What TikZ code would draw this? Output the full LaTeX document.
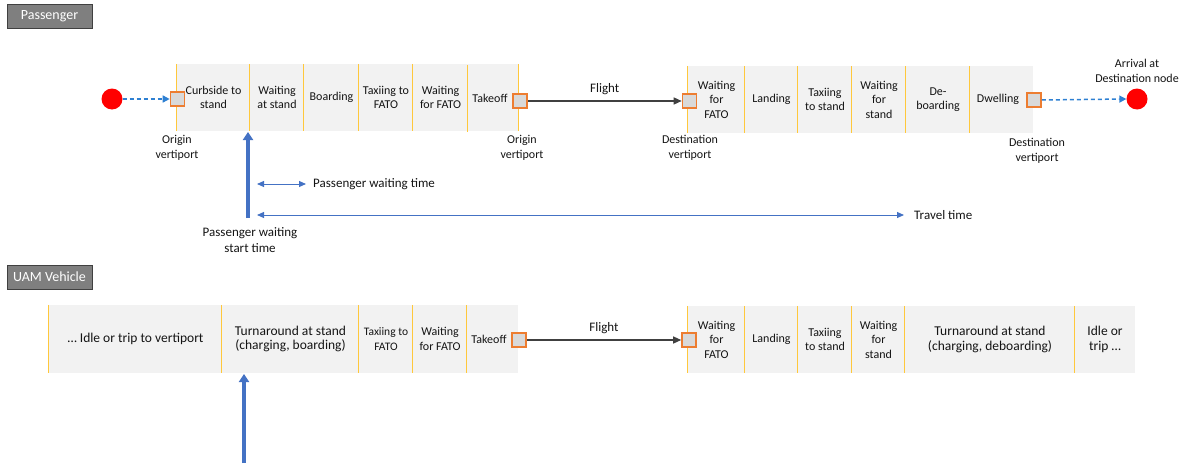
\documentclass[tikz,border=0pt]{standalone}
\usepackage{fontspec}
\setmainfont{Carlito}
\usetikzlibrary{arrows.meta}

\definecolor{bandfill}{RGB}{242,242,242}
\definecolor{sepline}{RGB}{255,200,60}
\definecolor{portfill}{RGB}{217,217,217}
\definecolor{portedge}{RGB}{237,125,49}
\definecolor{endred}{RGB}{255,0,0}
\definecolor{walkblue}{RGB}{46,128,210}
\definecolor{timeblue}{RGB}{68,114,196}
\definecolor{flightgray}{RGB}{64,64,64}
\definecolor{tagfill}{RGB}{127,127,127}
\definecolor{tagedge}{RGB}{64,64,64}
\definecolor{ink}{RGB}{20,20,20}

\newcommand\txtA{\fontsize{12}{14.5}\selectfont}
\newcommand\txtS{\fontsize{11.5}{14.5}\selectfont}
\newcommand\txtB{\fontsize{13}{15.5}\selectfont}
\newcommand\txtL{\fontsize{13.5}{15.5}\selectfont}
\newcommand\txtTag{\fontsize{14}{16}\selectfont}

% one phase cell: name, left x, right x, centre y, height, text
\newcommand\cellnode[6]{%
  \node[cell, minimum width={#3-#2}, minimum height=#5] (#1) at ({(#2+#3)/2},#4) {#6};
  \draw[sep] (#1.north west) -- (#1.south west);}

\begin{document}
\begin{tikzpicture}[x=1pt, y=-1pt,
  cell/.style={inner sep=0pt, align=center, text=ink, font=\txtA},
  sep/.style={draw=sepline, line width=0.9pt},
  band/.style={fill=bandfill, inner sep=0pt},
  port/.style={draw=portedge, fill=portfill, line width=1.6pt, minimum size=14pt, inner sep=0pt},
  endpt/.style={circle, fill=endred, minimum size=21pt, inner sep=0pt},
  walk/.style={draw=walkblue, line width=1.5pt, dash pattern=on 4pt off 3pt,
    -{Triangle[length=7pt,width=7pt]}},
  flightarrow/.style={draw=flightgray, line width=1.3pt, -{Triangle[length=8pt,width=7pt]}},
  span/.style={draw=timeblue, line width=1pt,
    {Triangle[length=7pt,width=6pt]}-{Triangle[length=7pt,width=6pt]}},
  startbar/.style={draw=timeblue, line width=4pt, -{Triangle[length=8pt,width=10pt]}},
  lbl/.style={align=center, text=ink, font=\txtA, inner sep=0pt},
  note/.style={align=center, text=ink, font=\txtB, inner sep=0pt},
  tag/.style={fill=tagfill, draw=tagedge, line width=0.8pt, text=white, font=\txtTag,
    minimum width=85pt, minimum height=24pt, inner sep=0pt}]

\useasboundingbox (0,0) rectangle (1190,463);

% ---------------- Passenger ----------------
\node[tag] (ptag) at (49.5,16.5) {Passenger};

\node[band, minimum width=341, minimum height=67] (pob) at (347.5,97.5) {};
\cellnode{pc1}{177}{250}{97.5}{67}{Curbside to\\stand}
\cellnode{pc2}{250}{304}{97.5}{67}{Waiting\\at stand}
\cellnode{pc3}{304}{359}{97.5}{67}{Boarding}
\cellnode{pc4}{359}{413}{97.5}{67}{Taxiing to\\FATO}
\cellnode{pc5}{413}{468}{97.5}{67}{Waiting\\for FATO}
\cellnode{pc6}{468}{512}{98.5}{67}{Takeoff}
\draw[sep] (pob.north east) -- (pob.south east);

\node[band, minimum width=345, minimum height=67] (pdb) at (860.5,99.5) {};
\cellnode{pd1}{688}{745}{99.5}{67}{Waiting\\for\\FATO}
\cellnode{pd2}{745}{798}{99.5}{67}{Landing}
\cellnode{pd3}{798}{852}{99.5}{67}{Taxiing\\to stand}
\cellnode{pd4}{852}{906}{99.5}{67}{Waiting\\for\\stand}
\cellnode{pd5}{906}{970}{99.5}{67}{De-\\boarding}
\cellnode{pd6}{970}{1026}{99.5}{67}{Dwelling}

\node[endpt] (porig) at (112,99) {};
\node[endpt] (pdest) at (1137,99) {};
\node[port] (pos) at (177.5,99) {};
\node[port] (pts) at (520,101) {};
\node[port] (pds) at (689.5,101) {};
\node[port] (pws) at (1034,100) {};

\draw[walk] (porig.east) -- (pos.west);
\draw[walk] (pws.east) -- (pdest.west);
\draw[flightarrow] (pts.east) -- node[note, above=6pt] (pfl) {Flight} (pds.west);

\node[lbl] (pl1) at (177,148) {Origin\\vertiport};
\node[lbl] (pl2) at (522,148) {Origin\\vertiport};
\node[lbl] (pl3) at (690,148) {Destination\\vertiport};
\node[lbl] (pl4) at (1037,151) {Destination\\vertiport};
\node[lbl] (pl5) at (1137,71) {Arrival at\\Destination node};

% waiting and travel times
\coordinate (ps0) at (248,218);
\coordinate (ps1) at (248,132);
\draw[startbar] (ps0) -- (ps1);
\node[note] (psl) at (250,240) {Passenger waiting\\start time};

\coordinate (pw0) at (257,184);
\coordinate (pw1) at (306,184);
\draw[span] (pw0) -- (pw1);
\node[note, anchor=west] (pwl) at (313,184) {Passenger waiting time};

\coordinate (tt0) at (257,215);
\coordinate (tt1) at (904,215);
\draw[span] (tt0) -- (tt1);
\node[note, anchor=west] (ttl) at (914,215) {Travel time};

% ---------------- UAM Vehicle ----------------
\node[tag] (vtag) at (49.5,277) {UAM Vehicle};

\node[band, minimum width=469, minimum height=68] (vob) at (283.5,339) {};
\cellnode{vc1}{49}{222}{339}{68}{\txtL\dots\ Idle or trip to vertiport}
\cellnode{vc2}{222}{359}{339}{68}{\txtL Turnaround at stand\\\txtL(charging, boarding)}
\cellnode{vc3}{359}{413}{339}{68}{\txtS Taxiing to\\\txtS FATO}
\cellnode{vc4}{413}{467}{339}{68}{Waiting\\for FATO}
\cellnode{vc5}{467}{511}{339}{68}{Takeoff}

\node[band, minimum width=447, minimum height=67] (vdb) at (911.5,339.5) {};
\cellnode{vd1}{688}{745}{339.5}{67}{Waiting\\for\\FATO}
\cellnode{vd2}{745}{798}{339.5}{67}{Landing}
\cellnode{vd3}{798}{852}{339.5}{67}{Taxiing\\to stand}
\cellnode{vd4}{852}{905}{339.5}{67}{Waiting\\for\\stand}
\cellnode{vd5}{905}{1075}{339.5}{67}{\txtL Turnaround at stand\\\txtL(charging, deboarding)}
\cellnode{vd6}{1075}{1135}{339.5}{67}{\txtL Idle or\\\txtL trip \dots}

\node[port] (vts) at (519,340) {};
\node[port] (vds) at (689,340) {};
\draw[flightarrow] (vts.east) -- node[note, above=6pt] (vfl) {Flight} (vds.west);

\coordinate (vs0) at (244,463);
\coordinate (vs1) at (244,374);
\draw[startbar] (vs0) -- (vs1);

\end{tikzpicture}
\end{document}
